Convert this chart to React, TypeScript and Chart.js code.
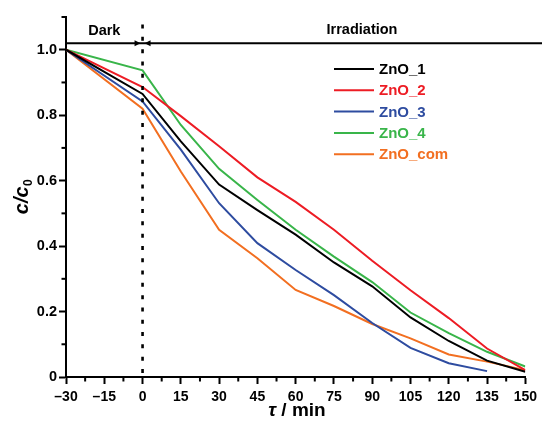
import React, { useEffect, useRef } from "react";
import { Chart, registerables } from "chart.js";

Chart.register(...registerables);

const times = [-30, 0, 15, 30, 45, 60, 75, 90, 105, 120, 135, 150];
const zno1 = [1.0, 0.865, 0.72, 0.588, 0.51, 0.435, 0.35, 0.277, 0.182, 0.11, 0.05, 0.016];
const zno2 = [1.0, 0.886, 0.797, 0.705, 0.61, 0.535, 0.45, 0.355, 0.265, 0.18, 0.087, 0.021];
const zno3 = [1.0, 0.842, 0.695, 0.531, 0.409, 0.327, 0.25, 0.165, 0.089, 0.042, 0.018];
const zno4 = [1.0, 0.937, 0.77, 0.636, 0.541, 0.45, 0.368, 0.29, 0.197, 0.134, 0.077, 0.032];
const znoCom = [1.0, 0.82, 0.628, 0.45, 0.363, 0.266, 0.217, 0.162, 0.118, 0.069, 0.047, 0.021];

const seriesNames = ["ZnO_1", "ZnO_2", "ZnO_3", "ZnO_4", "ZnO_com"];
const seriesColors = ["#000000", "#ED1C24", "#2E4CA0", "#39B54A", "#F26F21"];
const seriesValues = [zno1, zno2, zno3, zno4, znoCom];

const xMinorTicks = [-22.5, -7.5, 7.5, 22.5, 37.5, 52.5, 67.5, 82.5, 97.5, 112.5, 127.5, 142.5];
const yMinorTicks = [0.1, 0.3, 0.5, 0.7, 0.9, 1.1];

const darkLabel = "Dark";
const lightLabel = "Irradiation";
const boundaryTime = 0;
const boundaryLevel = 1.02;

const FONT = "'Liberation Sans', Arial, sans-serif";

const overlay = {
  id: "overlay",
  afterDraw(chart: any) {
    const ctx = chart.ctx;
    const xs = chart.scales.x;
    const ys = chart.scales.y;
    const area = chart.chartArea;
    ctx.save();
    ctx.strokeStyle = "#000";
    ctx.fillStyle = "#000";
    // minor ticks
    ctx.lineWidth = 2;
    for (const t of xMinorTicks) {
      const px = xs.getPixelForValue(t);
      ctx.beginPath();
      ctx.moveTo(px, area.bottom);
      ctx.lineTo(px, area.bottom + 4.5);
      ctx.stroke();
    }
    for (const v of yMinorTicks) {
      const py = ys.getPixelForValue(v);
      ctx.beginPath();
      ctx.moveTo(area.left, py);
      ctx.lineTo(area.left - 4.5, py);
      ctx.stroke();
    }
    // dotted boundary line
    const x0 = xs.getPixelForValue(boundaryTime);
    ctx.save();
    ctx.lineWidth = 2.6;
    ctx.setLineDash([4, 8.3]);
    ctx.beginPath();
    ctx.moveTo(x0, ys.getPixelForValue(1.077));
    ctx.lineTo(x0, area.bottom);
    ctx.stroke();
    ctx.restore();
    // top line
    const yl = ys.getPixelForValue(boundaryLevel);
    ctx.lineWidth = 2;
    ctx.beginPath();
    ctx.moveTo(area.left, yl);
    ctx.lineTo(chart.width, yl);
    ctx.stroke();
    // arrowheads
    ctx.beginPath();
    ctx.moveTo(x0 - 2, yl);
    ctx.lineTo(x0 - 8, yl - 3);
    ctx.lineTo(x0 - 8, yl + 3);
    ctx.closePath();
    ctx.fill();
    ctx.beginPath();
    ctx.moveTo(x0 + 2, yl);
    ctx.lineTo(x0 + 8, yl - 3);
    ctx.lineTo(x0 + 8, yl + 3);
    ctx.closePath();
    ctx.fill();
    // region labels
    ctx.font = `bold 14.5px ${FONT}`;
    ctx.textAlign = "center";
    ctx.textBaseline = "middle";
    ctx.fillText(darkLabel, (area.left + x0) / 2 + 0, 31);
    ctx.fillText(lightLabel, 362, 30);
    // legend
    ctx.textAlign = "left";
    ctx.font = `bold 15px ${FONT}`;
    chart.data.datasets.forEach((ds: any, i: number) => {
      const y = 69 + i * 21.3;
      ctx.strokeStyle = ds.borderColor;
      ctx.lineWidth = 2;
      ctx.beginPath();
      ctx.moveTo(334, y);
      ctx.lineTo(374, y);
      ctx.stroke();
      ctx.fillStyle = ds.borderColor;
      ctx.fillText(ds.label, 379, y + 1);
    });
    // y title c/c0
    ctx.fillStyle = "#000";
    ctx.save();
    ctx.translate(28, 197);
    ctx.rotate(-Math.PI / 2);
    ctx.font = `italic bold 20px ${FONT}`;
    const main = "c/c";
    ctx.textAlign = "left";
    ctx.textBaseline = "alphabetic";
    const wMain = ctx.measureText(main).width;
    ctx.font = `bold 12px ${FONT}`;
    const wSub = ctx.measureText("0").width;
    const start = -(wMain + wSub) / 2;
    ctx.font = `italic bold 20px ${FONT}`;
    ctx.fillText(main, start, 0);
    ctx.font = `bold 12px ${FONT}`;
    ctx.fillText("0", start + wMain + 0.5, 4);
    ctx.restore();
    // x title  τ / min
    ctx.textBaseline = "alphabetic";
    ctx.textAlign = "left";
    ctx.font = `italic bold 19px ${FONT}`;
    const tau = "\u03C4";
    const wTau = ctx.measureText(tau).width;
    ctx.font = `bold 19px ${FONT}`;
    const rest = " / min";
    const wRest = ctx.measureText(rest).width;
    const sx = 297 - (wTau + wRest) / 2;
    ctx.font = `italic bold 19px ${FONT}`;
    ctx.fillText(tau, sx, 416);
    ctx.font = `bold 19px ${FONT}`;
    ctx.fillText(rest, sx + wTau, 416);
    ctx.restore();
  },
};

export default function App() {
  const ref = useRef<HTMLCanvasElement | null>(null);
  useEffect(() => {
    if (!ref.current) return;
    const datasets = seriesNames.map((name, i) => ({
      label: name,
      data: seriesValues[i].map((v, j) => ({ x: times[j], y: v })),
      borderColor: seriesColors[i],
      backgroundColor: seriesColors[i],
      borderWidth: 2,
      pointRadius: 0,
      tension: 0,
      fill: false,
    }));
    const chart = new Chart(ref.current, {
      type: "line",
      data: { datasets },
      plugins: [overlay],
      options: {
        animation: false,
        responsive: false,
        layout: { padding: { left: 0, top: 17, right: 15, bottom: 0 } },
        plugins: { legend: { display: false }, tooltip: { enabled: false } },
        scales: {
          x: {
            type: "linear",
            min: -30,
            max: 150,
            ticks: {
              stepSize: 15,
              color: "#000",
              font: { family: FONT, weight: "bold", size: 14 },
              padding: 5,
              maxRotation: 0,
              callback: (v: any) => (v < 0 ? "\u2013" + Math.abs(v) : String(v)),
            },
            grid: { drawOnChartArea: false, tickLength: 7, tickWidth: 2, tickColor: "#000" },
            border: { color: "#000", width: 2 },
            afterFit: (s: any) => {
              s.height = 46;
            },
          },
          y: {
            type: "linear",
            min: 0,
            max: 1.1,
            ticks: {
              stepSize: 0.2,
              includeBounds: false,
              color: "#000",
              font: { family: FONT, weight: "bold", size: 14.5 },
              padding: 2,
              callback: (v: any) => (Math.abs(v) < 1e-9 ? "0" : Number(v).toFixed(1)),
            },
            grid: { drawOnChartArea: false, tickLength: 7, tickWidth: 2, tickColor: "#000" },
            border: { color: "#000", width: 2 },
            afterFit: (s: any) => {
              s.width = 66;
            },
          },
        },
      } as any,
    });
    return () => chart.destroy();
  }, []);
  return (
    <div style={{ position: "absolute", left: 0, top: 0, width: 542, height: 423, background: "#fff" }}>
      <canvas ref={ref} width={542} height={423} />
    </div>
  );
}
